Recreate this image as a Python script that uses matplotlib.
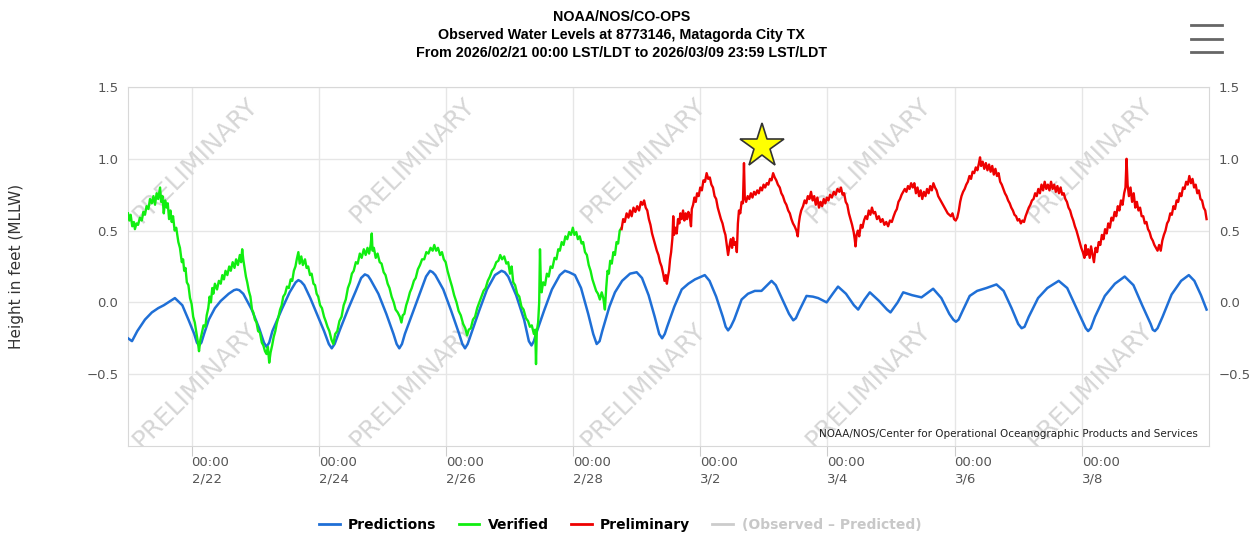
import pandas as pd
import matplotlib
matplotlib.use("Agg")
import matplotlib.pyplot as plt
from matplotlib.lines import Line2D

# Water levels at Matagorda City TX
# x = hours since 2026/02/21 00:00 LST/LDT, y = feet above MLLW
pred_hours = [0, 1.5, 3.5, 6.4, 9, 11.4, 13.5, 15.2, 17.7, 20.5, 22.8, 25, 26.0, 26.8, 27.7,
              28.7, 30.5, 32.8, 35, 38, 40, 41, 42, 43.5, 46.7, 49.5, 51.3, 52.3, 53.3,
              54.5, 58, 61, 63.3, 64.3, 65.3, 66.5, 68.8, 70.6, 74, 75.8, 76.9, 78,
              80, 83, 86, 88, 89.4, 90.6, 91.5, 94.5, 97.5, 100.2, 101.4, 102.4, 103.4,
              104.5, 107.5, 110.5, 112.5, 114, 115, 116, 119, 122, 125, 126.2, 127.2, 128.2,
              129.5, 132.5, 135.5, 138.5, 141, 142.2, 143.5, 146.5, 149.5, 151.3, 152.3, 153.2,
              154, 157, 160, 163, 164.9, 166.5, 168.7, 171, 173.7, 175.6, 176.9, 178,
              179, 181.7, 183.8, 186.5, 189.5, 192, 194, 196.5, 198.8, 200.5, 201.6, 202.6,
              203.5, 206.2, 209, 211.5, 214, 217.7, 219.5, 222, 224.5, 225.6, 226.5, 227.5,
              228.8, 231.6, 234, 236.6, 239.1, 242.9, 244.5, 247, 249.5, 251.1, 252.1,
              253.3, 256.1, 258.5, 260.5, 263.7, 266, 268, 271, 274, 275.6, 278, 280,
              283.5, 286.5, 287.8, 290.5, 292.6, 296, 299.5, 303.9, 307, 310, 311.5, 312.5, 313.5,
              315, 317.7, 320.5, 324, 327.8, 330.5, 333.5, 336, 337.3, 338.4, 340, 343.5, 347,
              351.3, 354.5, 357.5, 360.5, 361.5, 362.4, 363.4, 365, 368.7, 372.5, 376.2, 379.5, 382.8,
              386, 386.8, 387.6, 388.6, 390.5, 393.9, 397.5, 400.4, 402.5, 405, 407.1]
pred_ft = [-0.25, -0.27, -0.2, -0.12, -0.07, -0.04, -0.02, 0.0, 0.03, -0.02, -0.12, -0.22, -0.28, -0.30, -0.28,
           -0.22, -0.12, -0.04, 0.01, 0.06, 0.085, 0.09, 0.085, 0.06, -0.05, -0.18, -0.28, -0.31, -0.28,
           -0.20, -0.05, 0.07, 0.14, 0.155, 0.145, 0.12, 0.03, -0.05, -0.2, -0.29, -0.32, -0.29,
           -0.19, -0.05, 0.08, 0.17, 0.195, 0.185, 0.16, 0.06, -0.08, -0.22, -0.29, -0.32, -0.29,
           -0.22, -0.07, 0.08, 0.18, 0.22, 0.21, 0.19, 0.09, -0.06, -0.22, -0.29, -0.32, -0.29,
           -0.22, -0.06, 0.09, 0.19, 0.22, 0.21, 0.18, 0.05, -0.12, -0.27, -0.30, -0.27,
           -0.22, -0.06, 0.09, 0.19, 0.22, 0.21, 0.19, 0.10, -0.08, -0.22, -0.29, -0.27,
           -0.2, -0.03, 0.07, 0.15, 0.20, 0.21, 0.17, 0.05, -0.1, -0.22, -0.25, -0.22,
           -0.17, -0.03, 0.09, 0.13, 0.16, 0.19, 0.15, 0.04, -0.1, -0.17, -0.195, -0.17,
           -0.12, 0.02, 0.06, 0.08, 0.08, 0.15, 0.12, 0.02, -0.08, -0.125, -0.11,
           -0.06, 0.045, 0.04, 0.03, 0.0, 0.06, 0.11, 0.06, -0.02, -0.05, 0.02, 0.07,
           0.01, -0.05, -0.07, 0.0, 0.07, 0.05, 0.035, 0.095, 0.03, -0.08, -0.12, -0.135, -0.12,
           -0.06, 0.045, 0.08, 0.10, 0.125, 0.08, -0.04, -0.15, -0.18, -0.17, -0.1, 0.03, 0.1,
           0.15, 0.1, -0.02, -0.14, -0.18, -0.20, -0.18, -0.1, 0.045, 0.13, 0.18, 0.12, -0.02,
           -0.15, -0.19, -0.20, -0.18, -0.1, 0.055, 0.15, 0.19, 0.15, 0.05, -0.05]

ver_hours = [0.0, 0.5, 1.0, 1.6, 2.2, 2.6, 3.2, 3.8, 4.5, 5.2, 5.8, 6.4, 7.0, 7.7, 8.3, 9.0, 9.6,
             10.2, 10.8, 11.4, 12.1, 12.5, 13.0, 13.5, 14.0, 14.6, 15.0, 15.5, 16.0, 16.5, 17.0,
             17.6, 18.2, 19.0, 19.6, 20.3, 20.8, 21.2, 21.7, 22.2, 22.8, 23.4, 24.0, 24.6, 25.2,
             25.9, 26.4, 26.8, 27.3, 27.8, 28.5, 29.2, 29.7, 30.3, 30.8, 31.3, 31.8, 32.2, 32.8,
             33.6, 34.3, 35.0, 35.6, 36.2, 36.8, 37.5, 38.2, 38.8, 39.5, 40.2, 40.8, 41.5, 42.2,
             42.7, 43.1, 43.5, 44.0, 44.5, 45.0, 45.6, 46.2, 46.8, 47.3, 47.9, 48.5, 49.1, 49.8,
             50.5, 51.1, 51.7, 52.3, 52.8, 53.3, 53.8, 54.4, 55.0, 55.6, 56.1, 56.8, 57.4, 58.0,
             58.6, 59.3, 60.0, 60.7, 61.4, 62.0, 62.6, 63.2, 63.7, 64.3, 64.8, 65.4, 66.0, 66.8,
             67.4, 68.0, 68.7, 69.3, 70.0, 70.6, 71.2, 71.8, 72.5, 73.2, 74.0, 74.6, 75.3, 76.0,
             76.8, 77.5, 78.2, 79.0, 79.8, 80.6, 81.4, 82.2, 83.0, 83.8, 84.5, 85.2, 86.0, 86.7,
             87.5, 88.2, 89.0, 89.7, 90.4, 91.0, 91.6, 92.0, 92.3, 92.8, 93.5, 94.2, 95.0, 95.7,
             96.5, 97.2, 98.0, 98.7, 99.5, 100.3, 101.0, 101.8, 102.6, 103.2, 103.7, 104.3, 105.0,
             105.7, 106.4, 107.1, 107.9, 108.6, 109.4, 110.2, 111.0, 111.8, 112.6, 113.4, 114.2,
             115.0, 115.6, 116.3, 117.0, 117.8, 118.5, 119.2, 119.9, 120.6, 121.5, 122.3, 123.1,
             124.0, 124.8, 125.6, 126.5, 127.3, 128.0, 128.6, 129.4, 130.2, 131.0, 131.8, 132.6,
             133.4, 134.2, 135.0, 135.8, 136.6, 137.4, 138.2, 139.0, 139.8, 140.5, 141.2, 142.0,
             142.8, 143.5, 144.2, 144.8, 145.4, 146.1, 146.9, 147.7, 148.5, 149.3, 150.2, 151.0,
             151.7, 152.4, 153.2, 153.7, 154.0, 154.3, 154.8, 155.2, 155.5, 155.8, 156.1, 156.7,
             157.4, 158.1, 158.8, 159.5, 160.2, 161.0, 161.7, 162.4, 163.0, 163.7, 164.4, 165.1,
             165.8, 166.5, 167.2, 167.9, 168.5, 169.2, 169.8, 170.5, 171.2, 171.8, 172.5, 173.2,
             173.9, 174.6, 175.3, 176.0, 176.7, 177.4, 178.1, 178.8, 179.4, 180.0, 180.5, 181.0,
             181.5, 182.0, 182.6, 183.2, 183.8, 184.4, 185.0, 185.6, 186.3]
ver_ft = [0.62, 0.57, 0.61, 0.53, 0.56, 0.51, 0.55, 0.54, 0.59, 0.57, 0.63, 0.61, 0.67, 0.65, 0.72, 0.69, 0.74,
          0.68, 0.76, 0.72, 0.80, 0.70, 0.74, 0.62, 0.71, 0.66, 0.69, 0.58, 0.64, 0.56, 0.60,
          0.50, 0.52, 0.42, 0.38, 0.28, 0.30, 0.22, 0.24, 0.14, 0.12, 0.03, -0.01, -0.10, -0.14,
          -0.22, -0.28, -0.34, -0.26, -0.22, -0.16, -0.17, -0.09, -0.04, 0.04, 0.00, 0.10, 0.06, 0.13,
          0.09, 0.15, 0.13, 0.19, 0.16, 0.22, 0.19, 0.25, 0.22, 0.28, 0.24, 0.30, 0.26, 0.33,
          0.28, 0.37, 0.30, 0.24, 0.18, 0.14, 0.08, 0.04, -0.05, -0.07, -0.12, -0.14, -0.20, -0.21,
          -0.28, -0.30, -0.34, -0.36, -0.31, -0.42, -0.35, -0.30, -0.24, -0.20, -0.15, -0.10, -0.05, -0.02,
          0.04, 0.06, 0.11, 0.10, 0.16, 0.15, 0.22, 0.25, 0.30, 0.35, 0.27, 0.32, 0.26, 0.30,
          0.24, 0.25, 0.19, 0.20, 0.13, 0.12, 0.06, 0.04, -0.02, -0.04, -0.10, -0.13, -0.17, -0.20,
          -0.26, -0.29, -0.22, -0.20, -0.13, -0.10, -0.02, 0.02, 0.10, 0.14, 0.20, 0.22, 0.28, 0.27,
          0.34, 0.31, 0.37, 0.33, 0.38, 0.34, 0.40, 0.48, 0.36, 0.38, 0.31, 0.34, 0.28, 0.27,
          0.21, 0.19, 0.13, 0.10, 0.04, 0.0, -0.05, -0.07, -0.10, -0.14, -0.09, -0.08, -0.02,
          0.02, 0.07, 0.10, 0.15, 0.17, 0.23, 0.26, 0.30, 0.30, 0.35, 0.34, 0.38,
          0.36, 0.40, 0.36, 0.38, 0.33, 0.35, 0.30, 0.28, 0.22, 0.16, 0.11, 0.05,
          0.0, -0.06, -0.09, -0.15, -0.18, -0.23, -0.19, -0.18, -0.12, -0.10, -0.04, 0.0,
          0.04, 0.08, 0.10, 0.15, 0.18, 0.22, 0.24, 0.28, 0.29, 0.33, 0.30, 0.32,
          0.27, 0.28, 0.20, 0.25, 0.14, 0.12, 0.06, 0.04, -0.03, -0.05, -0.11, -0.13,
          -0.17, -0.16, -0.22, -0.19, -0.43, -0.20, -0.14, 0.0, 0.37, 0.15, 0.07, 0.14,
          0.12, 0.20, 0.18, 0.25, 0.24, 0.31, 0.30, 0.37, 0.36, 0.42, 0.40, 0.46,
          0.44, 0.49, 0.47, 0.52, 0.47, 0.49, 0.44, 0.46, 0.41, 0.42, 0.35, 0.33,
          0.26, 0.22, 0.16, 0.12, 0.08, 0.06, 0.02, 0.07, 0.03, -0.05, 0.10, 0.22,
          0.20, 0.29, 0.27, 0.35, 0.33, 0.42, 0.41, 0.50, 0.52]

pre_hours = [186.3, 186.9, 187.5, 188.2, 188.9, 189.5, 190.1, 190.8, 191.5, 192.2, 192.9, 193.6, 194.2,
             194.8, 195.4, 196.0, 196.6, 197.2, 197.8, 198.4, 199.0, 199.6, 200.2, 200.8, 201.4,
             202.0, 202.5, 203.0, 203.4, 203.8, 204.2, 204.6, 205.0, 205.5, 205.8, 206.1, 206.6,
             207.1, 207.6, 208.1, 208.5, 209.0, 209.5, 210.0, 210.5, 211.0, 211.5, 212.0, 212.5,
             212.8, 213.3, 213.8, 214.3, 214.8, 215.4, 216.0, 216.6, 217.2, 217.8, 218.4, 219.0,
             219.6, 220.2, 220.8, 221.4, 222.0, 222.6, 223.2, 223.8, 224.4, 225.0, 225.5, 226.0,
             226.5, 227.0, 227.5, 228.0, 228.4, 228.9, 229.4, 229.8, 230.2, 230.6, 231.1, 231.6,
             232.1, 232.5, 232.8, 233.3, 233.9, 234.5, 235.1, 235.7, 236.3, 236.9, 237.5, 238.1,
             238.7, 239.3, 239.9, 240.5, 241.1, 241.7, 242.3, 242.9, 243.5, 244.1, 244.7, 245.3,
             246.0, 246.6, 247.2, 247.9, 248.5, 249.2, 249.8, 250.4, 251.0, 251.6, 252.3, 252.8,
             253.2, 253.6, 254.1, 254.8, 255.4, 256.0, 256.6, 257.2, 257.8, 258.4, 259.0, 259.6,
             260.2, 260.8, 261.4, 262.0, 262.6, 263.2, 263.8, 264.4, 265.0, 265.7, 266.4, 267.1,
             267.8, 268.5, 269.1, 269.7, 270.3, 270.9, 271.5, 272.1, 272.7, 273.3, 273.9, 274.3,
             274.6, 275.0, 275.5, 276.0, 276.6, 277.2, 277.8, 278.4, 279.0, 279.6, 280.2, 280.8,
             281.4, 282.0, 282.7, 283.4, 284.1, 284.8, 285.5, 286.2, 286.9, 287.6, 288.3, 289.0,
             289.6, 290.2, 290.8, 291.4, 292.0, 292.6, 293.2, 293.8, 294.4, 295.0, 295.6, 296.2,
             296.8, 297.4, 298.0, 298.6, 299.2, 299.8, 300.4, 301.0, 301.6, 302.2, 302.8, 303.4,
             304.0, 304.6, 305.2, 305.8, 306.4, 307.0, 307.6, 308.2, 308.8, 309.4, 310.0, 310.6,
             311.2, 311.8, 312.4, 313.0, 313.6, 314.1, 314.6, 315.2, 315.8, 316.4, 317.0, 317.6,
             318.2, 318.8, 319.4, 320.0, 320.6, 321.2, 321.6, 322.0, 322.6, 323.2, 323.8, 324.4,
             325.0, 325.6, 326.2, 326.8, 327.4, 328.0, 328.6, 329.2, 329.8, 330.4, 331.0, 331.6,
             332.2, 332.8, 333.4, 334.0, 334.6, 335.2, 335.8, 336.4, 337.0, 337.6, 338.2, 338.8,
             339.4, 340.0, 340.6, 341.2, 341.8, 342.4, 343.0, 343.6, 344.2, 344.8, 345.4, 346.0,
             346.6, 347.2, 347.8, 348.4, 349.0, 349.6, 350.2, 350.8, 351.4, 352.0, 352.6, 353.2,
             353.8, 354.4, 355.0, 355.6, 356.2, 356.8, 357.4, 358.0, 358.6, 359.2, 359.8, 360.4,
             361.0, 361.4, 361.8, 362.4, 363.0, 363.5, 364.0, 364.6, 365.2, 365.8, 366.4, 367.0,
             367.6, 368.2, 368.8, 369.4, 370.0, 370.6, 371.2, 371.8, 372.4, 373.0, 373.6, 374.2,
             374.8, 375.4, 376.0, 376.5, 376.9, 377.3, 377.8, 378.4, 379.0, 379.6, 380.2, 380.8,
             381.4, 382.0, 382.6, 383.2, 383.8, 384.4, 385.0, 385.6, 386.2, 386.8, 387.4, 388.0,
             388.6, 389.2, 389.8, 390.4, 391.0, 391.6, 392.2, 392.8, 393.4, 394.0, 394.6, 395.2,
             395.8, 396.4, 397.0, 397.6, 398.2, 398.8, 399.4, 400.0, 400.6, 401.2, 401.8, 402.4,
             403.0, 403.6, 404.2, 404.8, 405.4, 406.0, 406.6, 407.1]
pre_ft = [0.51, 0.58, 0.56, 0.62, 0.59, 0.64, 0.60, 0.66, 0.63, 0.67, 0.64, 0.70, 0.68,
          0.71, 0.66, 0.64, 0.58, 0.54, 0.48, 0.44, 0.40, 0.36, 0.33, 0.28, 0.25,
          0.20, 0.15, 0.19, 0.13, 0.18, 0.22, 0.30, 0.35, 0.45, 0.60, 0.47, 0.52,
          0.48, 0.58, 0.55, 0.62, 0.58, 0.64, 0.57, 0.62, 0.58, 0.63, 0.60, 0.53,
          0.65, 0.68, 0.73, 0.70, 0.76, 0.74, 0.80, 0.78, 0.85, 0.84, 0.90, 0.86,
          0.87, 0.82, 0.80, 0.74, 0.72, 0.66, 0.62, 0.58, 0.55, 0.50, 0.47, 0.40,
          0.33, 0.39, 0.44, 0.38, 0.45, 0.40, 0.42, 0.35, 0.55, 0.64, 0.62, 0.70,
          0.69, 0.97, 0.73, 0.70, 0.74, 0.72, 0.76, 0.73, 0.77, 0.75, 0.78, 0.76,
          0.80, 0.78, 0.82, 0.80, 0.83, 0.82, 0.86, 0.85, 0.90, 0.87, 0.85, 0.82,
          0.80, 0.76, 0.74, 0.70, 0.68, 0.64, 0.62, 0.58, 0.55, 0.53, 0.50, 0.46,
          0.55, 0.60, 0.64, 0.67, 0.71, 0.69, 0.74, 0.72, 0.77, 0.71, 0.74, 0.68,
          0.73, 0.66, 0.70, 0.67, 0.72, 0.69, 0.73, 0.71, 0.75, 0.73, 0.77, 0.75,
          0.79, 0.77, 0.80, 0.75, 0.76, 0.70, 0.68, 0.62, 0.58, 0.54, 0.49, 0.44,
          0.39, 0.47, 0.50, 0.46, 0.54, 0.52, 0.57, 0.60, 0.58, 0.64, 0.61, 0.66,
          0.62, 0.63, 0.58, 0.60, 0.56, 0.58, 0.54, 0.56, 0.53, 0.57, 0.56, 0.60,
          0.63, 0.65, 0.70, 0.72, 0.75, 0.77, 0.79, 0.77, 0.81, 0.79, 0.83, 0.80,
          0.83, 0.76, 0.80, 0.74, 0.78, 0.72, 0.77, 0.74, 0.79, 0.76, 0.81, 0.78,
          0.83, 0.80, 0.78, 0.74, 0.72, 0.70, 0.68, 0.66, 0.64, 0.62, 0.61, 0.60,
          0.62, 0.58, 0.57, 0.59, 0.64, 0.70, 0.74, 0.77, 0.79, 0.82, 0.84, 0.88,
          0.86, 0.91, 0.90, 0.94, 0.92, 0.97, 1.01, 0.95, 0.98, 0.93, 0.97, 0.92,
          0.96, 0.91, 0.95, 0.89, 0.93, 0.88, 0.90, 0.84, 0.82, 0.79, 0.76, 0.74,
          0.71, 0.69, 0.66, 0.64, 0.61, 0.60, 0.57, 0.58, 0.55, 0.57, 0.56, 0.60,
          0.63, 0.66, 0.68, 0.71, 0.72, 0.76, 0.74, 0.79, 0.76, 0.82, 0.78, 0.84,
          0.79, 0.82, 0.78, 0.84, 0.79, 0.82, 0.77, 0.81, 0.76, 0.80, 0.75, 0.76,
          0.72, 0.70, 0.66, 0.64, 0.60, 0.57, 0.53, 0.50, 0.46, 0.42, 0.38, 0.35,
          0.31, 0.40, 0.33, 0.37, 0.31, 0.39, 0.34, 0.28, 0.38, 0.35, 0.42, 0.40,
          0.47, 0.44, 0.51, 0.48, 0.55, 0.52, 0.59, 0.57, 0.63, 0.60, 0.67, 0.64,
          0.71, 0.68, 0.76, 0.80, 1.00, 0.82, 0.74, 0.80, 0.70, 0.76, 0.66, 0.70,
          0.64, 0.66, 0.60, 0.60, 0.55, 0.56, 0.51, 0.49, 0.45, 0.43, 0.40, 0.38,
          0.36, 0.40, 0.36, 0.43, 0.47, 0.50, 0.55, 0.57, 0.62, 0.61, 0.67, 0.65,
          0.71, 0.70, 0.76, 0.74, 0.80, 0.79, 0.84, 0.82, 0.88, 0.83, 0.86, 0.80,
          0.82, 0.76, 0.78, 0.72, 0.71, 0.66, 0.64, 0.58]

star_hour = 239.3
star_ft = 1.09

tick_hours = [24, 72, 120, 168, 216, 264, 312, 360]
start = pd.Timestamp("2026-02-21")
tick_dates = [start + pd.Timedelta(hours=h) for h in tick_hours]
tick_labels = [f"00:00\n{d.month}/{d.day}" for d in tick_dates]

fig = plt.figure(figsize=(12.55, 5.35), dpi=100)
ax = fig.add_axes([0.102, 0.1664, 0.8613, 0.671])

# PRELIMINARY watermark, two rows
for cx in [195, 412, 643, 868, 1090]:
    for cy in [160, 385]:
        ax.text(cx / 1255, 1 - cy / 535, "PRELIMINARY", transform=fig.transFigure,
                rotation=45, ha="center", va="center", fontsize=18, color="#d6d6d6",
                clip_on=True, zorder=1)

ax.plot(pred_hours, pred_ft, color="#1f6fd6", lw=1.8, zorder=3)
ax.plot(ver_hours, ver_ft, color="#11ee11", lw=1.7, zorder=4)
ax.plot(pre_hours, pre_ft, color="#ee0000", lw=1.7, zorder=4)
ax.plot(star_hour, star_ft, marker="*", markersize=33, color="#ffff00",
        markeredgecolor="#333333", markeredgewidth=1.2, zorder=6)

ax.set_xlim(0, 408)
ax.set_ylim(-1.0, 1.5)
ax.set_yticks([-0.5, 0.0, 0.5, 1.0, 1.5])
ax.set_yticklabels(["−0.5", "0.0", "0.5", "1.0", "1.5"])
ax.set_xticks(tick_hours)
ax.set_xticklabels(tick_labels, ha="left", linespacing=1.35)
ax.grid(True, color="#e6e6e6", lw=1)
ax.set_axisbelow(True)
for s in ax.spines.values():
    s.set_color("#d8d8d8")
ax.tick_params(axis="y", length=0, labelsize=9.5, labelcolor="#555555", pad=7,
               right=False, labelright=True)
ax.tick_params(axis="x", length=7, color="#cccccc", labelsize=9.5, labelcolor="#555555", pad=0)
ax.set_ylabel("Height in feet (MLLW)", fontsize=11, color="#333333", labelpad=45)

ax.text(0.99, 0.02, "NOAA/NOS/Center for Operational Oceanographic Products and Services",
        transform=ax.transAxes, ha="right", va="bottom", fontsize=7.5, color="#222222", zorder=7)

fig.text(0.495, 0.982, "NOAA/NOS/CO-OPS\nObserved Water Levels at 8773146, Matagorda City TX\n"
         "From 2026/02/21 00:00 LST/LDT to 2026/03/09 23:59 LST/LDT",
         ha="center", va="top", fontsize=10.3, fontweight="bold", family="Liberation Sans",
         linespacing=1.4)

# menu icon
for yy in [0.953, 0.928, 0.903]:
    fig.add_artist(Line2D([0.949, 0.974], [yy, yy], color="#666666", lw=2))

handles = [Line2D([], [], color="#1f6fd6", lw=2),
           Line2D([], [], color="#11ee11", lw=2),
           Line2D([], [], color="#ee0000", lw=2),
           Line2D([], [], color="#cccccc", lw=2)]
leg = fig.legend(handles, ["Predictions", "Verified", "Preliminary", "(Observed – Predicted)"],
                 loc="lower center", bbox_to_anchor=(0.494, -0.018), ncol=4, frameon=False,
                 prop={"weight": "bold", "size": 10}, handlelength=1.5, handletextpad=0.6,
                 columnspacing=1.6)
leg.get_texts()[3].set_color("#c8c8c8")

fig.savefig("out.png", dpi=100)
